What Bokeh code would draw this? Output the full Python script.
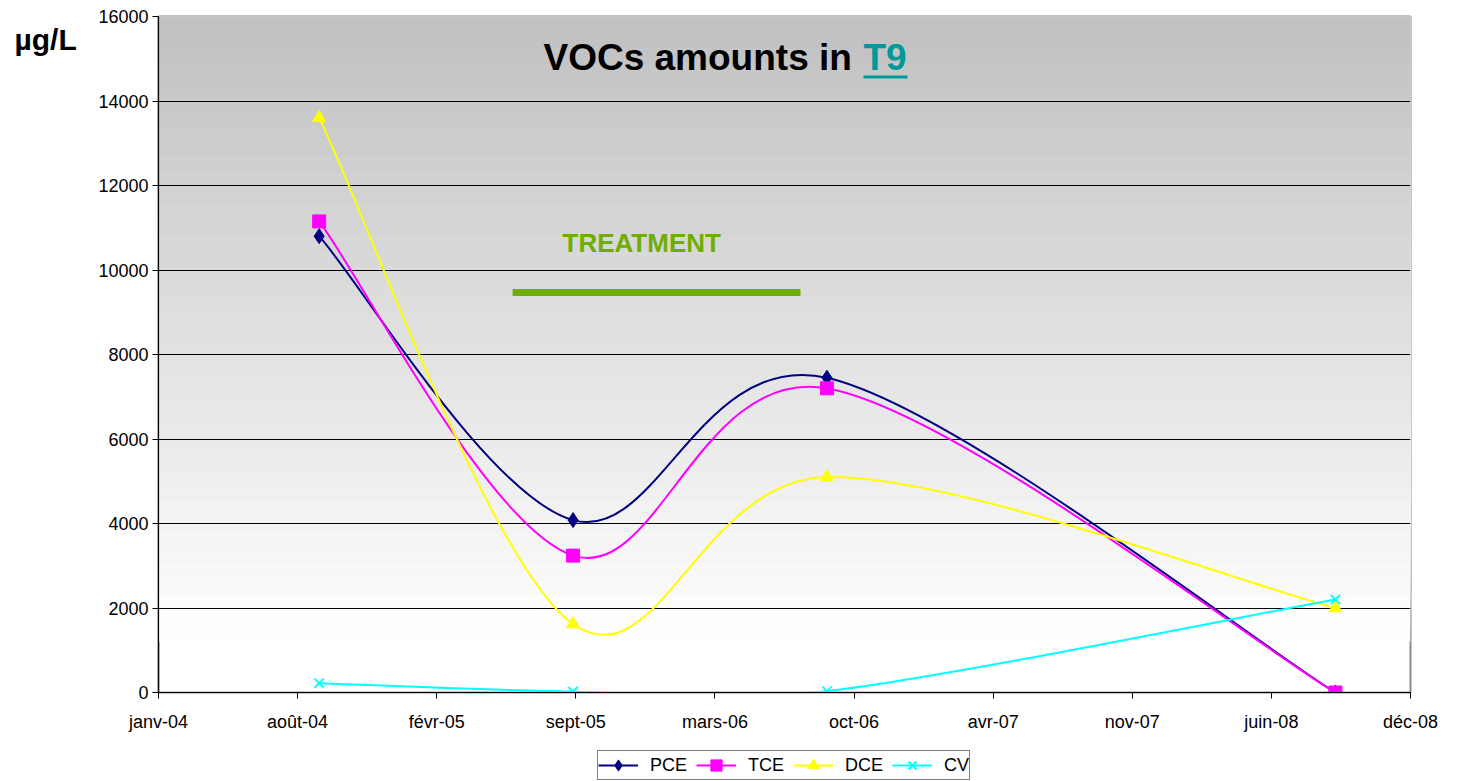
from datetime import datetime
from bokeh.plotting import figure
from bokeh.layouts import column, row
from bokeh.models import (ColumnDataSource, FixedTicker, Label, BoxAnnotation,
                          Legend, LegendItem)
from bokeh.embed import file_html
from bokeh.resources import INLINE

# ---------------- data ----------------
sample_dates = ["2004-09-01", "2005-09-01", "2006-09-01", "2008-09-01"]
pce = [10800, 4080, 7450, 0]
tce = [11150, 3240, 7200, 0]
dce = [13600, 1620, 5100, 2000]
cv = [220, 20, 30, 2200]

series_names = ["PCE", "TCE", "DCE", "CV"]
series_colors = ["#000080", "#ff00ff", "#ffff00", "#00ffff"]
series_markers = ["diamond", "square", "triangle", "x"]

# Excel date serials for the x ticks (min 38000, step 200 days)
tick_serials = [38000, 38200, 38400, 38600, 38800, 39000, 39200, 39400, 39600, 39800]
tick_labels = ["janv-04", "août-04", "févr-05", "sept-05", "mars-06",
               "oct-06", "avr-07", "nov-07", "juin-08", "déc-08"]
y_ticks = [0, 2000, 4000, 6000, 8000, 10000, 12000, 14000, 16000]

treatment_start = "2005-06-06"
treatment_end = "2006-07-25"
treatment_level = 9470

# ---------------- helpers ----------------
DAY = 86400000.0


def serial_to_ms(s):
    return (s - 25569) * DAY


def date_to_ms(d):
    return (datetime.strptime(d, "%Y-%m-%d") - datetime(1970, 1, 1)).total_seconds() * 1000.0


xs = [date_to_ms(d) for d in sample_dates]
tick_ms = [serial_to_ms(s) for s in tick_serials]
all_series = [pce, tce, dce, cv]

FONT = "Liberation Sans"
UNIT_W = 80

p = figure(width=1453 - UNIT_W, height=750, x_axis_type="datetime",
           x_range=(tick_ms[0], tick_ms[-1]), y_range=(0, 16000),
           output_backend="svg", toolbar_location=None,
           min_border_left=158 - UNIT_W, min_border_right=43,
           min_border_top=16, min_border_bottom=58)

p.background_fill_color = "white"
p.border_fill_color = "white"
p.outline_line_color = "#8c8c8c"
p.outline_line_width = 2

# gradient background (grey at top -> white near the bottom), overlapping bands
n_bands = 40
top_v, bot_v = 16000, 1200
for i in reversed(range(n_bands)):
    t1 = top_v - (top_v - bot_v) * (i + 1) / n_bands
    frac = (i + 0.5) / n_bands
    c = int(round(192 + (255 - 192) * frac))
    p.add_layout(BoxAnnotation(top=top_v, bottom=t1, fill_color="#%02x%02x%02x" % (c, c, c),
                               fill_alpha=1.0, line_alpha=0, level="image"))

# axes
p.xaxis.ticker = FixedTicker(ticks=tick_ms)
p.xaxis.major_label_overrides = {t: l for t, l in zip(tick_ms, tick_labels)}
p.yaxis.ticker = FixedTicker(ticks=y_ticks)
for ax in (p.xaxis, p.yaxis):
    ax.axis_line_color = "black"
    ax.axis_line_width = 1.2
    ax.major_tick_line_color = "black"
    ax.major_tick_in = 0
    ax.major_tick_out = 6
    ax.minor_tick_line_color = None
    ax.major_label_text_font = FONT
    ax.major_label_text_font_size = "18px"
    ax.major_label_text_color = "black"
p.xaxis.major_label_standoff = 13
p.yaxis.major_label_standoff = 4

p.xgrid.grid_line_color = None
p.ygrid.grid_line_color = "black"
p.ygrid.grid_line_width = 1
p.ygrid.ticker = FixedTicker(ticks=y_ticks)

# narrow strip on the left carrying the unit label
uf = figure(width=UNIT_W, height=750, x_range=(0, 1), y_range=(0, 1),
            output_backend="svg", toolbar_location=None,
            min_border_left=0, min_border_right=0,
            min_border_top=16, min_border_bottom=58, outline_line_color=None)
uf.axis.visible = False
uf.grid.visible = False
uf.add_layout(Label(x=14, y=653, x_units="screen", y_units="screen",
                    text="µg/L", text_font=FONT, text_font_size="30px",
                    text_font_style="bold", text_color="black",
                    text_baseline="alphabetic"))

# legend strip below the chart
lf = figure(width=1453 - UNIT_W, height=30, x_range=(0, 1), y_range=(0, 1),
            output_backend="svg", toolbar_location=None,
            min_border=0, outline_line_color=None)
lf.axis.visible = False
lf.grid.visible = False

# smoothed curves (Excel-style Catmull-Rom bezier through the data points)
legend_items = []
for name, ys, color, marker in zip(series_names, all_series,
                                     series_colors, series_markers):
    n = len(xs)
    pts = list(zip(xs, ys))
    x0, y0, x1, y1, cx0, cy0, cx1, cy1 = [], [], [], [], [], [], [], []
    for i in range(n - 1):
        pa = pts[i - 1] if i > 0 else pts[i]
        pb = pts[i]
        pc = pts[i + 1]
        pd = pts[i + 2] if i + 2 < n else pts[i + 1]
        x0.append(pb[0]); y0.append(pb[1])
        x1.append(pc[0]); y1.append(pc[1])
        cx0.append(pb[0] + (pc[0] - pa[0]) / 6.0)
        cy0.append(pb[1] + (pc[1] - pa[1]) / 6.0)
        cx1.append(pc[0] - (pd[0] - pb[0]) / 6.0)
        cy1.append(pc[1] - (pd[1] - pb[1]) / 6.0)
    bsrc = ColumnDataSource(dict(x0=x0, y0=y0, x1=x1, y1=y1,
                                 cx0=cx0, cy0=cy0, cx1=cx1, cy1=cy1))
    p.bezier(x0="x0", y0="y0", x1="x1", y1="y1", cx0="cx0", cy0="cy0",
             cx1="cx1", cy1="cy1", source=bsrc, line_color=color, line_width=2)
    msrc = ColumnDataSource(dict(x=xs, y=ys))
    msize = 15 if marker == "diamond" else 13
    if marker == "x":
        p.scatter("x", "y", source=msrc, marker=marker, size=msize,
                  line_color=color, line_width=2)
    else:
        p.scatter("x", "y", source=msrc, marker=marker, size=msize,
                  fill_color=color, line_color=color)
    # legend renderers (their data lies outside the legend strip's visible range)
    lr = lf.line("x", "y", source=msrc, line_color=color, line_width=2)
    if marker == "x":
        lm = lf.scatter("x", "y", source=msrc, marker=marker, size=msize,
                        line_color=color, line_width=2)
    else:
        lm = lf.scatter("x", "y", source=msrc, marker=marker, size=msize,
                        fill_color=color, line_color=color)
    legend_items.append(LegendItem(label=name, renderers=[lr, lm]))

legend = Legend(items=legend_items, orientation="horizontal",
                location=(439, 0), glyph_width=40, glyph_height=28,
                label_standoff=12, spacing=9, padding=0, margin=0,
                label_text_font=FONT, label_text_font_size="18px",
                label_text_color="black",
                border_line_color="black", border_line_width=1,
                background_fill_color="white", background_fill_alpha=1.0,
                label_height=28)
lf.add_layout(legend, "center")

# treatment bar + label
p.segment(x0=[date_to_ms(treatment_start)], y0=[treatment_level],
          x1=[date_to_ms(treatment_end)], y1=[treatment_level],
          line_color="#6fad00", line_width=7)
p.add_layout(Label(x=404, y=450, x_units="screen", y_units="screen",
                   text="TREATMENT", text_font=FONT, text_font_size="26px",
                   text_font_style="bold", text_color="#6fad00",
                   text_baseline="alphabetic"))

# title inside plot
p.add_layout(Label(x=385, y=635, x_units="screen", y_units="screen",
                   text="VOCs amounts in", text_font=FONT, text_font_size="37px",
                   text_font_style="bold", text_color="black",
                   text_baseline="alphabetic"))
p.add_layout(Label(x=705, y=635, x_units="screen", y_units="screen",
                   text="T9", text_font=FONT, text_font_size="37px",
                   text_font_style="bold", text_color="#009999",
                   text_baseline="alphabetic"))
p.add_layout(BoxAnnotation(left=705, right=749, top=617, bottom=614,
                           left_units="screen", right_units="screen",
                           top_units="screen", bottom_units="screen",
                           fill_color="#009999", fill_alpha=1.0, line_alpha=0))

layout = row(uf, column(p, lf, spacing=0), spacing=0)
open("out.html", "w").write(file_html(layout, INLINE))
